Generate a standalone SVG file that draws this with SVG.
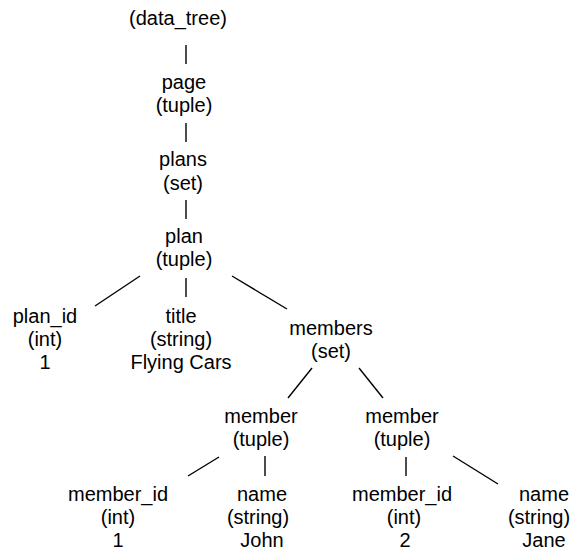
<svg xmlns="http://www.w3.org/2000/svg" width="572" height="552" viewBox="0 0 572 552">
<style>
text{font-family:"Liberation Sans",Arial,Helvetica,sans-serif;font-size:20px;fill:#000;text-anchor:middle}
.c line{stroke:#000;stroke-width:1.4}
</style>
<rect width="572" height="552" fill="#fff"/>
<g class="c" id="connectors">
<line x1="186" y1="45" x2="186" y2="64"/>
<line x1="186" y1="123" x2="186" y2="142"/>
<line x1="186" y1="200" x2="186" y2="219"/>
<line x1="140" y1="276" x2="95" y2="306"/>
<line x1="186" y1="278" x2="186" y2="297"/>
<line x1="232" y1="276" x2="287" y2="309"/>
<line x1="312" y1="368" x2="288" y2="398"/>
<line x1="359" y1="368" x2="383" y2="398"/>
<line x1="219" y1="457" x2="188" y2="476"/>
<line x1="265" y1="456" x2="265" y2="476"/>
<line x1="406" y1="457" x2="406" y2="476"/>
<line x1="453" y1="456" x2="498" y2="484"/>
</g>
<g id="data_tree"><text x="178" y="25">(data_tree)</text></g>
<g id="page"><text x="184" y="89">page</text><text x="184" y="112">(tuple)</text></g>
<g id="plans"><text x="183" y="166">plans</text><text x="183" y="190">(set)</text></g>
<g id="plan"><text x="184" y="243">plan</text><text x="184" y="266">(tuple)</text></g>
<g id="plan_id"><text x="45" y="323">plan_id</text><text x="45" y="346">(int)</text><text x="45" y="369">1</text></g>
<g id="title"><text x="181" y="323">title</text><text x="181" y="346">(string)</text><text x="181" y="369">Flying Cars</text></g>
<g id="members"><text x="331" y="335">members</text><text x="331" y="358">(set)</text></g>
<g id="member1"><text x="261" y="423">member</text><text x="261" y="446">(tuple)</text></g>
<g id="member2"><text x="402" y="423">member</text><text x="402" y="446">(tuple)</text></g>
<g id="member_id1"><text x="118" y="501">member_id</text><text x="118" y="524">(int)</text><text x="118" y="547">1</text></g>
<g id="name1"><text x="262" y="501">name</text><text x="258" y="524">(string)</text><text x="262" y="547">John</text></g>
<g id="member_id2"><text x="402" y="501">member_id</text><text x="404" y="524">(int)</text><text x="405" y="547">2</text></g>
<g id="name2"><text x="544" y="501">name</text><text x="539" y="524">(string)</text><text x="544" y="547">Jane</text></g>
</svg>
